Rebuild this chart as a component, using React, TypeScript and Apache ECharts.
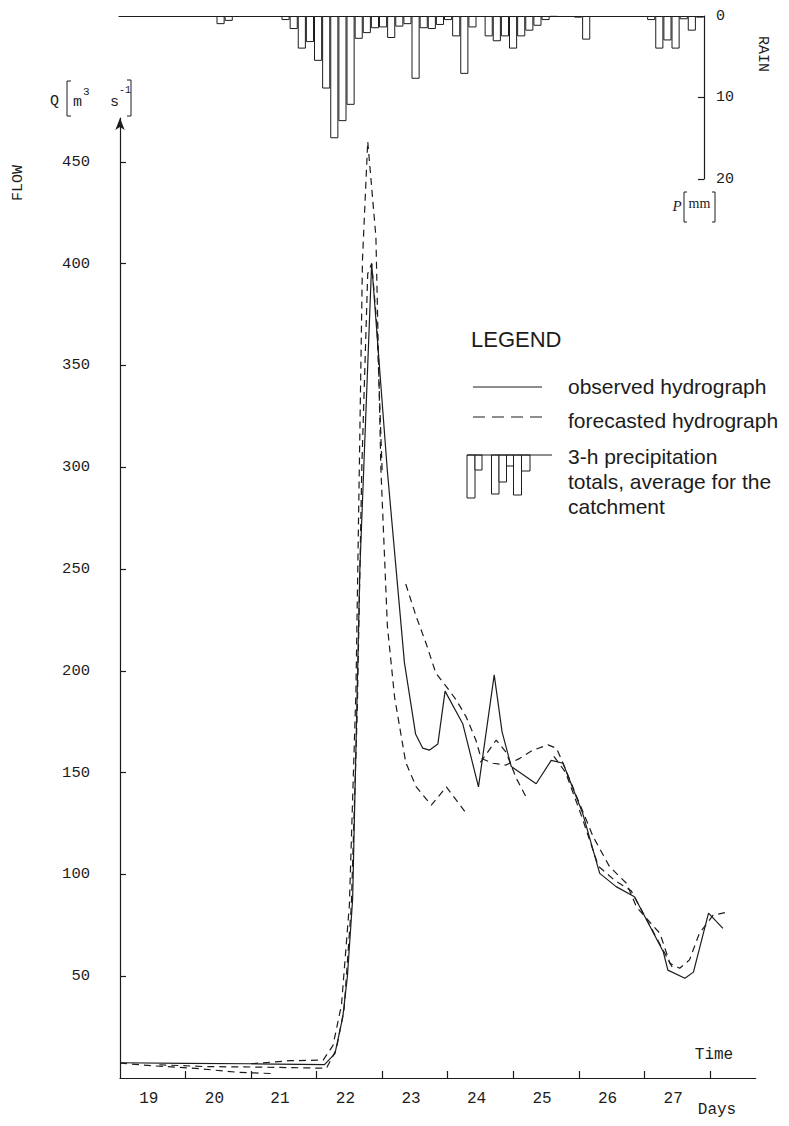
import React, { useEffect, useRef } from "react";
import * as echarts from "echarts";

// ---------- data ----------
const dayLabels = [19, 20, 21, 22, 23, 24, 25, 26, 27];
const dayBoundaries = [20, 21, 22, 23, 24, 25, 26, 27, 28];
const flowTicks = [50, 100, 150, 200, 250, 300, 350, 400, 450];
const rainTicks = [0, 10, 20];
const hoursOfDay = [0, 3, 6, 9, 12, 15, 18, 21];

// 3-h precipitation totals [mm], one per 3-h slot from day 19 00h to day 27 21h
const rainMm = [
  0, 0, 0, 0, 0, 0, 0, 0, 0, 0, 0, 0,
  1.0, 0.6, 0, 0, 0, 0, 0, 0,
  0.5, 1.6, 4.0, 3.2, 5.5, 8.9, 15.0, 12.9, 10.9, 2.8, 2.1, 1.5, 1.4, 2.7, 1.3, 1.0,
  7.7, 1.5, 1.6, 1.1, 0.5, 2.5, 7.1, 1.4, 0, 2.5, 3.1, 2.5, 4.0, 2.5, 1.8, 1.2, 0.5, 0.1,
  0, 0, 0.2, 2.9, 0, 0, 0, 0, 0, 0, 0,
  0.5, 4.0, 3.0, 4.0, 0.4, 1.8, 0.2,
];

// observed hydrograph [day, Q m3/s]
const observed = [
  [19.0, 7.5], [20.0, 7.2], [21.0, 7.0], [22.12, 6.6], [22.28, 12], [22.4, 30],
  [22.47, 50], [22.55, 88], [22.66, 250], [22.84, 400], [23.08, 298], [23.34, 204],
  [23.51, 169], [23.62, 162], [23.72, 161], [23.85, 164], [23.96, 190], [24.23, 174],
  [24.47, 143], [24.71, 198], [24.83, 170], [24.97, 153], [25.35, 144.5], [25.58, 156],
  [25.76, 154.6], [26.06, 130], [26.32, 100.5], [26.57, 94], [26.85, 89], [27.29, 62],
  [27.36, 53], [27.62, 49], [27.75, 52], [27.98, 81], [28.2, 73.5],
];

// forecasted hydrographs (several forecast runs)
const forecastEarly = [
  [19.0, 7.3], [19.5, 6.0], [20.2, 4.6], [20.8, 2.8], [21.3, 2.2],
];
const forecastA = [
  [21.0, 7.0], [21.6, 8.5], [22.1, 8.8], [22.25, 16], [22.38, 36], [22.5, 85],
  [22.6, 190], [22.7, 402], [22.78, 460], [22.905, 413], [22.98, 300], [23.08, 222],
  [23.19, 187], [23.36, 155], [23.52, 143], [23.75, 134], [23.98, 143], [24.26, 131],
];
const forecastB = [
  [19.6, 6.5], [20.3, 5.6], [21.0, 5.4], [21.8, 5.0], [22.15, 4.8], [22.3, 14],
  [22.42, 34], [22.53, 85], [22.62, 180], [22.69, 300], [22.78, 395], [22.84, 400],
  [22.92, 370], [23.0, 298],
];
const forecastC = [
  [23.36, 242.6], [23.52, 226.6], [23.67, 213.5], [23.82, 198.8], [23.98, 192.2],
  [24.13, 185.7], [24.28, 177.5], [24.43, 166], [24.51, 157], [24.69, 154.6],
  [24.89, 153.7], [25.1, 157], [25.3, 161], [25.53, 163.6], [25.66, 162], [25.76, 154.6],
  [26.22, 118.5], [26.47, 103.8], [26.73, 95.6], [26.88, 84], [27.24, 71], [27.39, 56.3],
  [27.54, 53.9], [27.69, 58], [27.84, 71], [28.05, 80], [28.23, 81.2],
];
const forecastD = [
  [24.5, 155], [24.74, 166], [24.89, 160], [25.05, 147], [25.22, 136.5],
];
const forecastE = [
  [25.62, 158], [25.8, 150], [26.05, 128], [26.3, 104], [26.55, 97], [26.8, 92],
  [27.0, 80], [27.3, 62], [27.45, 53],
];
const forecastRuns = [forecastEarly, forecastA, forecastB, forecastC, forecastD, forecastE];

const rainSlots = dayLabels.flatMap((d) => hoursOfDay.map((h) => `${d} ${h}h`));

// ---------- style ----------
const ink = "#1c1c1c";
const mono = "'Liberation Mono', 'DejaVu Sans Mono', monospace";
const sans = "'Liberation Sans', Arial, sans-serif";
const serif = "'Liberation Serif', serif";

export default function App() {
  const ref = useRef<HTMLDivElement>(null);

  useEffect(() => {
    if (!ref.current) return;
    const chart = echarts.init(ref.current, null, { renderer: "svg" });
    const axisLine = { color: ink, width: 1.2 };

    const legendBars = [
      [467, 475, 498],
      [475, 482, 470],
      [491.5, 499, 494],
      [499, 506.5, 482],
      [506.5, 513.5, 466],
      [513.5, 521.5, 495],
      [521.5, 530, 471],
    ];

    const option: any = {
      animation: false,
      backgroundColor: "#fff",
      grid: [
        { left: 120, right: 33.3, top: 118, bottom: 48 },
        { left: 119, right: 85, top: 16, bottom: 947 },
      ],
      xAxis: [
        {
          gridIndex: 0,
          type: "value",
          min: 19,
          max: 28.7,
          position: "bottom",
          axisLine: { show: true, onZero: false, lineStyle: axisLine },
          axisTick: { show: true, inside: true, length: 7, customValues: dayBoundaries, lineStyle: axisLine },
          axisLabel: {
            customValues: dayLabels.map((d) => d + 0.44),
            formatter: (v: number) => String(Math.floor(v + 0.001)),
            margin: 13,
            fontFamily: mono,
            fontSize: 16,
            color: ink,
          },
          splitLine: { show: false },
        },
        {
          gridIndex: 1,
          type: "category",
          data: rainSlots,
          position: "top",
          boundaryGap: true,
          axisLine: { show: true, onZero: false, lineStyle: axisLine },
          axisTick: { show: false },
          axisLabel: { show: false },
          splitLine: { show: false },
        },
      ],
      yAxis: [
        {
          gridIndex: 0,
          type: "value",
          min: 0,
          max: 471.5,
          axisLine: { show: true, onZero: false, symbol: ["none", "arrow"], symbolSize: [7, 12], lineStyle: axisLine },
          axisTick: { show: true, inside: true, length: 6, customValues: flowTicks, lineStyle: axisLine },
          axisLabel: { customValues: flowTicks, margin: 30, fontFamily: mono, fontSize: 15.5, color: ink },
          splitLine: { show: false },
        },
        {
          gridIndex: 1,
          type: "value",
          min: 0,
          max: 20,
          inverse: true,
          position: "right",
          axisLine: { show: true, onZero: false, lineStyle: axisLine },
          axisTick: { show: true, inside: true, length: 6, customValues: [10, 20], lineStyle: axisLine },
          axisLabel: { customValues: rainTicks, margin: 12, fontFamily: mono, fontSize: 15, color: ink },
          splitLine: { show: false },
        },
      ],
      series: [
        {
          type: "bar",
          name: "3-h precipitation",
          xAxisIndex: 1,
          yAxisIndex: 1,
          data: rainMm.map((v) => (v > 0 ? v : "-")),
          barWidth: "100%",
          itemStyle: { color: "#fff", borderColor: ink, borderWidth: 1 },
        },
        {
          type: "line",
          name: "observed hydrograph",
          xAxisIndex: 0,
          yAxisIndex: 0,
          data: observed,
          showSymbol: false,
          symbol: "none",
          lineStyle: { color: ink, width: 1.2, type: "solid" },
          z: 5,
        },
        ...forecastRuns.map((run) => ({
          type: "line",
          name: "forecasted hydrograph",
          xAxisIndex: 0,
          yAxisIndex: 0,
          data: run,
          showSymbol: false,
          symbol: "none",
          lineStyle: { color: ink, width: 1.2, type: [7, 5] },
          z: 4,
        })),
      ],
      graphic: [
        // flow axis title
        { type: "text", x: 18, y: 183, rotation: Math.PI / 2, style: { text: "FLOW", font: `15px ${mono}`, fill: ink, align: "center", verticalAlign: "middle" } },
        { type: "text", x: 50, y: 101, style: { text: "Q", font: `15px ${mono}`, fill: ink, align: "left", verticalAlign: "middle" } },
        { type: "polyline", shape: { points: [[71, 81], [67, 81], [67, 116], [71, 116]] }, style: { stroke: ink, lineWidth: 1, fill: null } },
        { type: "text", x: 73, y: 102, style: { text: "m", font: `15px ${mono}`, fill: ink, align: "left", verticalAlign: "middle" } },
        { type: "text", x: 83, y: 92, style: { text: "3", font: `11px ${mono}`, fill: ink, align: "left", verticalAlign: "middle" } },
        { type: "text", x: 110, y: 102, style: { text: "s", font: `15px ${mono}`, fill: ink, align: "left", verticalAlign: "middle" } },
        { type: "text", x: 119, y: 90, style: { text: "-1", font: `10px ${mono}`, fill: ink, align: "left", verticalAlign: "middle" } },
        { type: "polyline", shape: { points: [[127, 80], [131, 80], [131, 116], [127, 116]] }, style: { stroke: ink, lineWidth: 1, fill: null } },
        // rain axis title
        { type: "text", x: 762, y: 54, rotation: -Math.PI / 2, style: { text: "RAIN", font: `15px ${mono}`, fill: ink, align: "center", verticalAlign: "middle" } },
        { type: "text", x: 677, y: 206, style: { text: "P", font: `italic 15px ${serif}`, fill: ink, align: "center", verticalAlign: "middle" } },
        { type: "polyline", shape: { points: [[687, 192], [684, 192], [684, 222], [687, 222]] }, style: { stroke: ink, lineWidth: 1, fill: null } },
        { type: "text", x: 699.5, y: 203, style: { text: "mm", font: `14px ${serif}`, fill: ink, align: "center", verticalAlign: "middle" } },
        { type: "polyline", shape: { points: [[712, 192], [715, 192], [715, 222], [712, 222]] }, style: { stroke: ink, lineWidth: 1, fill: null } },
        // time axis titles
        { type: "text", x: 714, y: 1055, style: { text: "Time", font: `16px ${mono}`, fill: ink, align: "center", verticalAlign: "middle" } },
        { type: "text", x: 717, y: 1110, style: { text: "Days", font: `16px ${mono}`, fill: ink, align: "center", verticalAlign: "middle" } },
        // legend
        { type: "text", x: 471, y: 339, style: { text: "LEGEND", font: `22px ${sans}`, fill: ink, align: "left", verticalAlign: "middle" } },
        { type: "line", shape: { x1: 473, y1: 387, x2: 542, y2: 387 }, style: { stroke: ink, lineWidth: 1.2 } },
        { type: "text", x: 568, y: 386, style: { text: "observed hydrograph", font: `21px ${sans}`, fill: ink, align: "left", verticalAlign: "middle" } },
        { type: "line", shape: { x1: 473, y1: 417, x2: 542, y2: 417 }, style: { stroke: ink, lineWidth: 1.2, lineDash: [12, 7] } },
        { type: "text", x: 568, y: 420, style: { text: "forecasted hydrograph", font: `21px ${sans}`, fill: ink, align: "left", verticalAlign: "middle" } },
        ...legendBars.map(([a, b, bottom]) => ({
          type: "rect",
          shape: { x: a, y: 455, width: b - a, height: bottom - 455 },
          style: { fill: "#fff", stroke: ink, lineWidth: 1 },
        })),
        { type: "line", shape: { x1: 467, y1: 455, x2: 552, y2: 455 }, style: { stroke: ink, lineWidth: 1.2 } },
        { type: "text", x: 568, y: 456, style: { text: "3-h precipitation", font: `21px ${sans}`, fill: ink, align: "left", verticalAlign: "middle" } },
        { type: "text", x: 568, y: 481, style: { text: "totals, average for the", font: `21px ${sans}`, fill: ink, align: "left", verticalAlign: "middle" } },
        { type: "text", x: 568, y: 506, style: { text: "catchment", font: `21px ${sans}`, fill: ink, align: "left", verticalAlign: "middle" } },
      ],
    };

    chart.setOption(option);
    return () => chart.dispose();
  }, []);

  return (
    <div
      ref={ref}
      style={{ position: "absolute", left: 0, top: 0, width: 789, height: 1126, background: "#fff" }}
    />
  );
}
